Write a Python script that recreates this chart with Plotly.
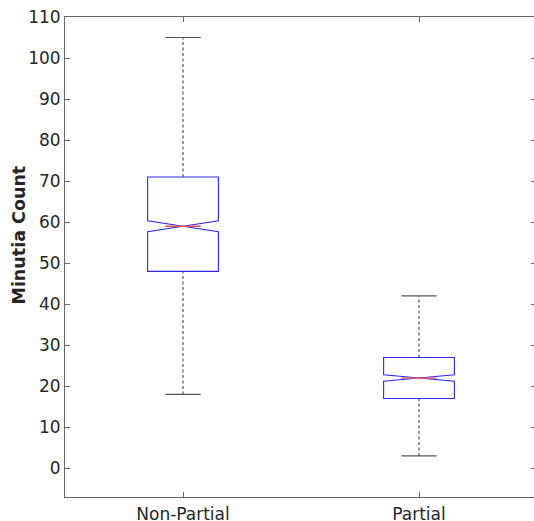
import plotly.graph_objects as go

categories = ["Non-Partial", "Partial"]
lower_whisker = [18, 3]
q1 = [48, 17]
median = [59, 22]
q3 = [71, 27]
upper_whisker = [105, 42]
notch_span = [1.35, 0.8]
y_label = "Minutia Count"

positions = [1, 2]
box_w = 0.3
cap_w = 0.15
med_w = 0.15

fig = go.Figure()

dash_col = "#555555"
for i, pos in enumerate(positions):
    fig.add_trace(go.Scatter(x=[pos, pos], y=[lower_whisker[i], q1[i]], mode="lines",
                             line=dict(color=dash_col, width=1.2, dash="3px,2.5px"),
                             showlegend=False, hoverinfo="skip"))
    fig.add_trace(go.Scatter(x=[pos, pos], y=[q3[i], upper_whisker[i]], mode="lines",
                             line=dict(color=dash_col, width=1.2, dash="3px,2.5px"),
                             showlegend=False, hoverinfo="skip"))
    for yv in (lower_whisker[i], upper_whisker[i]):
        fig.add_trace(go.Scatter(x=[pos - cap_w / 2, pos + cap_w / 2], y=[yv, yv], mode="lines",
                                 line=dict(color=dash_col, width=1.2),
                                 showlegend=False, hoverinfo="skip"))
    fig.add_trace(go.Box(x=[pos], q1=[q1[i]], median=[median[i]], q3=[q3[i]],
                         lowerfence=[q1[i]], upperfence=[q3[i]],
                         notched=True, notchspan=[notch_span[i]], notchwidth=0.5,
                         width=box_w, whiskerwidth=0,
                         line=dict(color="#2b2bf0", width=1.1),
                         fillcolor="rgba(255,255,255,0)",
                         boxpoints=False, showlegend=False, hoverinfo="skip"))
    fig.add_trace(go.Scatter(x=[pos - med_w / 2, pos + med_w / 2], y=[median[i], median[i]], mode="lines",
                             line=dict(color="#f05050", width=1.3),
                             showlegend=False, hoverinfo="skip"))

axis_col = "#666666"
font_col = "#262626"
fig.update_layout(
    width=534, height=521,
    margin=dict(l=65, r=0, t=17, b=24, autoexpand=False),
    plot_bgcolor="white", paper_bgcolor="white",
    font=dict(family="DejaVu Sans", size=17, color=font_col),
    showlegend=False,
    xaxis=dict(range=[0.5, 2.5 - 3 / 236], tickvals=positions, ticktext=categories,
               ticks="inside", ticklen=5, tickcolor=axis_col, showline=True, linecolor=axis_col,
               linewidth=1, mirror="ticks", showgrid=False, zeroline=False, automargin=False,
               ticklabelstandoff=2, tickfont=dict(size=17, color=font_col)),
    yaxis=dict(range=[-7, 110], dtick=10, tick0=0, ticks="inside", ticklen=5, tickcolor=axis_col,
               showline=True, linecolor=axis_col, linewidth=1, showgrid=False, zeroline=False,
               automargin=False, tickfont=dict(size=17, color=font_col)),
    yaxis2=dict(overlaying="y", side="right", matches="y", range=[-7, 110], dtick=10, tick0=0,
                ticks="inside", ticklen=3, tickcolor=axis_col, showticklabels=False, automargin=False,
                showline=False, showgrid=False, zeroline=False),
    annotations=[dict(text="<b>" + y_label + "</b>", textangle=-90, xref="paper", yref="paper",
                      x=-0.0991, y=0.5458, xanchor="center", yanchor="middle", showarrow=False,
                      font=dict(size=17.5, color=font_col, family="DejaVu Sans"))],
)
fig.add_trace(go.Scatter(x=[None], y=[None], yaxis="y2", showlegend=False, hoverinfo="skip"))

fig.write_html("out.html", config={"displayModeBar": False},
               post_script="document.body.style.margin='0';document.body.style.overflow='hidden';")
